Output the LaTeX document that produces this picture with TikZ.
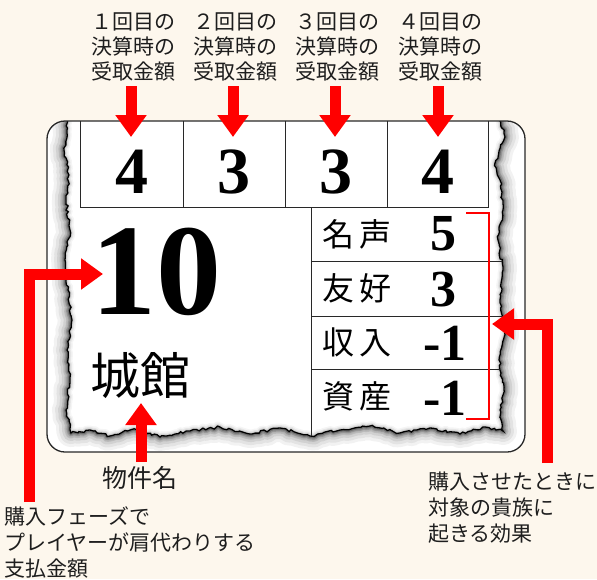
\documentclass[tikz,border=0pt]{standalone}
\usepackage{fontspec}
\usetikzlibrary{arrows.meta,decorations.pathmorphing}
\newfontfamily\jp{Noto Sans CJK JP}
\newfontfamily\numf{Liberation Serif}
\newcommand\gnum[1]{{\numf\bfseries #1}}
\definecolor{bg}{RGB}{253,247,237}
\definecolor{ink}{RGB}{30,30,30}
\definecolor{gridc}{RGB}{40,40,40}
\newcommand\tornpath{(68,95) -- (67,130) -- (64,150) -- (69,175) -- (66,200) -- (70,230) -- (65,260) -- (68,290) -- (72,320) -- (67,350) -- (70,380) -- (66,410) -- (71,433) -- (90,430) -- (110,436) -- (135,429) -- (160,437) -- (190,431) -- (220,427) -- (250,434) -- (280,428) -- (310,436) -- (340,430) -- (370,426) -- (400,433) -- (430,428) -- (460,434) -- (485,427) -- (503,431) -- (500,410) -- (504,390) -- (499,360) -- (505,335) -- (500,300) -- (503,270) -- (498,240) -- (503,210) -- (500,180) -- (495,163) -- (505,137) -- (500,121) -- (503,95) -- cycle}
\tikzset{
  torn/.style={decorate, decoration={random steps, segment length=3pt, amplitude=1.3pt}},
  redarrow/.style={draw=red, line width=11pt, line join=miter, -{Triangle[width=30pt,length=22pt]}},
  toplabel/.style={font=\jp\fontsize{21}{25}\selectfont, text=ink, align=center, inner sep=0pt},
  sidelabel/.style={font=\jp\fontsize{21}{26}\selectfont, text=ink, align=left, inner sep=0pt},
  cardtxt/.style={font=\jp\fontsize{32}{32}\selectfont, text=black, inner sep=0pt},
  gothnum/.style={font=\fontsize{66}{66}\selectfont, text=black, inner sep=0pt},
  valnum/.style={font=\fontsize{52}{52}\selectfont, text=black, inner sep=0pt},
  gridline/.style={draw=gridc, line width=1pt},
}
\begin{document}
\begin{tikzpicture}[x=1pt,y=-1pt]
\useasboundingbox (0,0) rectangle (597,579);
\fill[bg] (0,0) rectangle (597,579);
% card
\fill[white, rounded corners=18pt] (47,121) rectangle (525,452);
\begin{scope}
  \clip[rounded corners=18pt] (47,121) rectangle (525,452);
  \foreach \w/\o in {28/0.05,22/0.06,16/0.08,11/0.1,7/0.13,4/0.16}{
    \pgfmathsetseed{7}
    \draw[torn, black, opacity=\o, line width=\w pt, line join=round] \tornpath;
  }
  \pgfmathsetseed{7}
  \fill[torn, white] \tornpath;
  \foreach \w/\o in {9/0.04,6/0.06,3.5/0.09}{
    \pgfmathsetseed{7}
    \draw[torn, black, opacity=\o, line width=\w pt, line join=round] \tornpath;
  }
  \pgfmathsetseed{7}
  \draw[torn, black, line width=1.3pt] \tornpath;
  \pgfmathsetseed{7}
  \clip[torn] \tornpath;
  % grid
  \draw[gridline] (80,121) -- (80,207) -- (488,207) -- (488,121);
  \draw[gridline] (183,121) -- (183,207);
  \draw[gridline] (285,121) -- (285,207);
  \draw[gridline] (387,121) -- (387,207);
  \draw[gridline] (311,207) -- (311,445);
  \draw[gridline] (311,261) -- (520,261);
  \draw[gridline] (311,316) -- (520,316);
  \draw[gridline] (311,369) -- (520,369);
\end{scope}
\draw[draw=gridc, line width=1.3pt, rounded corners=18pt] (47,121) rectangle (525,452);
% cell numbers
\node[gothnum] (n1) at (131.5,172) {\gnum{4}};
\node[gothnum] (n2) at (234,172) {\gnum{3}};
\node[gothnum] (n3) at (336,172) {\gnum{3}};
\node[gothnum] (n4) at (437.5,172) {\gnum{4}};
\node[font=\fontsize{130}{130}\selectfont, inner sep=0pt] (price) at (156,272) {\gnum{10}};
\node[font=\jp\fontsize{50}{50}\selectfont, inner sep=0pt] (name) at (140,376) {城館};
% right rows
\node[cardtxt] (k1) at (357,234) {名\hspace{6pt}声};
\node[cardtxt] (k2) at (357,288) {友\hspace{6pt}好};
\node[cardtxt] (k3) at (357,342) {収\hspace{6pt}入};
\node[cardtxt] (k4) at (357,396) {資\hspace{6pt}産};
\node[valnum] (v1) at (443,234) {\gnum{5}};
\node[valnum] (v2) at (443,290) {\gnum{3}};
\node[valnum] (v3) at (445,343) {\gnum{-1}};
\node[valnum] (v4) at (445,398) {\gnum{-1}};
% bracket
\coordinate (b1) at (466,213);
\coordinate (b2) at (489,419);
\coordinate (b3) at (466,419);
\draw[red, line width=2.5pt] (b1) -| (b2) -- (b3);
% top labels
\node[toplabel] (t1) at (133,47) {１回目の\\決算時の\\受取金額};
\node[toplabel] (t2) at (235,47) {２回目の\\決算時の\\受取金額};
\node[toplabel] (t3) at (337,47) {３回目の\\決算時の\\受取金額};
\node[toplabel] (t4) at (440,47) {４回目の\\決算時の\\受取金額};
\foreach \i/\x in {1/131,2/233,3/335,4/438}{
  \coordinate (as\i) at (\x,86);
  \coordinate (ae\i) at (\x,137);
  \draw[redarrow] (as\i) -- (ae\i);
}
% bottom labels
\node[font=\jp\fontsize{25}{25}\selectfont, text=ink, inner sep=0pt] (lname) at (140,478) {物件名};
\coordinate (nm0) at (141,462);
\coordinate (nm1) at (141,403);
\draw[redarrow] (nm0) -- (nm1);
\node[sidelabel, anchor=west] (lpay) at (4,542) {購入フェーズで\\プレイヤーが肩代わりする\\支払金額};
\coordinate (p0) at (29.5,502);
\coordinate (p1) at (103,274);
\draw[redarrow] (p0) |- (p1);
\node[sidelabel, anchor=west] (leff) at (428,508) {購入させたときに\\対象の貴族に\\起きる効果};
\coordinate (e0) at (547,463);
\coordinate (e1) at (492,324);
\draw[redarrow] (e0) |- (e1);
\end{tikzpicture}
\end{document}
